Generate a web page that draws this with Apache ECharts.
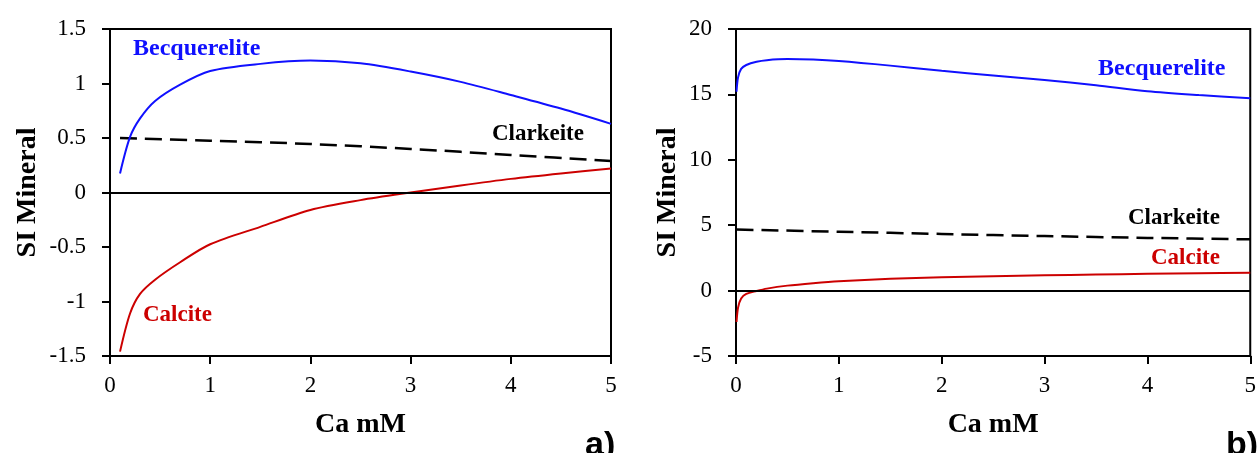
<!DOCTYPE html>
<html>
<head>
<meta charset="utf-8">
<script src="https://cdn.jsdelivr.net/npm/echarts@6/dist/echarts.min.js"></script>
<style>
html,body{margin:0;padding:0;background:#fff;}
#chart{width:1259px;height:453px;}
</style>
</head>
<body>
<div id="chart"></div>
<script>
// Panel a)
const xA = [0.1, 0.2, 0.3, 0.45, 0.7, 1, 1.5, 2, 2.5, 3, 3.5, 4, 4.5, 5];
const becqA = [0.175, 0.51, 0.68, 0.84, 0.99, 1.115, 1.18, 1.21, 1.185, 1.11, 1.015, 0.895, 0.77, 0.63];
const calcA = [-1.46, -1.11, -0.93, -0.8, -0.64, -0.475, -0.315, -0.16, -0.07, 0.0, 0.065, 0.125, 0.175, 0.22];
const clarkXA = [0.1, 1, 2, 3, 4, 5];
const clarkA = [0.5, 0.475, 0.445, 0.4, 0.345, 0.29];

// Panel b)
const xB = [0.005, 0.02, 0.05, 0.1, 0.2, 0.3, 0.5, 0.75, 1, 1.5, 2, 2.5, 3, 3.5, 4, 4.5, 5];
const becqB = [15.2, 16.3, 16.95, 17.25, 17.5, 17.62, 17.7, 17.66, 17.55, 17.2, 16.8, 16.45, 16.1, 15.7, 15.25, 14.95, 14.7];
const calcB = [-2.4, -1.3, -0.6, -0.25, -0.03, 0.15, 0.38, 0.57, 0.72, 0.9, 1.02, 1.1, 1.17, 1.23, 1.28, 1.32, 1.36];
const clarkXB = [0.005, 1, 2, 3, 4, 5];
const clarkB = [4.67, 4.5, 4.33, 4.17, 4.03, 3.92];

const xName = 'Ca mM';
const yName = 'SI Mineral';
const mineralNames = ['Becquerelite', 'Clarkeite', 'Calcite'];
const panelTags = ['a)', 'b)'];

const pair = (xs, ys) => xs.map((x, i) => [x, ys[i]]);
const serif = '"Liberation Serif","Times New Roman",serif';
const BLUE = '#1010ff', RED = '#cc0000', BLACK = '#000';

function xAxisCfg(gi, gap) {
  return {
    gridIndex: gi, type: 'value', min: 0, max: 5, interval: 1,
    name: xName, nameLocation: 'middle', nameGap: gap,
    nameTextStyle: {fontFamily: serif, fontWeight: 'bold', fontSize: 28, color: BLACK},
    axisLine: {onZero: false, lineStyle: {color: BLACK, width: 2}},
    axisTick: {show: true, inside: false, length: 8, lineStyle: {color: BLACK, width: 2}},
    axisLabel: {fontFamily: serif, fontSize: 23, color: BLACK, margin: 18},
    splitLine: {show: false}
  };
}
function yAxisCfg(gi, min, max, interval, gap) {
  return {
    gridIndex: gi, type: 'value', min: min, max: max, interval: interval,
    name: yName, nameLocation: 'middle', nameGap: gap,
    nameTextStyle: {fontFamily: serif, fontWeight: 'bold', fontSize: 28, color: BLACK},
    axisLine: {onZero: false, lineStyle: {color: BLACK, width: 2}},
    axisTick: {show: true, inside: false, length: 8, lineStyle: {color: BLACK, width: 2}},
    axisLabel: {fontFamily: serif, fontSize: 23, color: BLACK, margin: 24},
    splitLine: {show: false}
  };
}
function lineSeries(gi, data, color, dashed, zero) {
  const s = {
    type: 'line', xAxisIndex: gi, yAxisIndex: gi, data: data,
    showSymbol: false, symbol: 'none', smooth: 0.3, silent: true,
    lineStyle: {color: color, width: dashed ? 2.5 : 2, type: dashed ? [17, 8] : 'solid'},
    z: 3
  };
  if (zero) {
    s.markLine = {
      silent: true, symbol: 'none', label: {show: false},
      lineStyle: {color: BLACK, width: 2, type: 'solid'},
      data: [{yAxis: 0}]
    };
  }
  return s;
}
function txt(x, y, text, color, size, family, weight) {
  return {
    type: 'text', left: x, top: y - size / 2,
    style: {text: text, fill: color, fontSize: size, fontFamily: family || serif,
            fontWeight: weight || 'bold'}
  };
}

const chart = echarts.init(document.getElementById('chart'), null, {renderer: 'canvas'});
chart.setOption({
  animation: false,
  backgroundColor: '#fff',
  grid: [
    {left: 110, top: 29, width: 501, height: 327, show: true, borderColor: BLACK, borderWidth: 2, backgroundColor: 'transparent'},
    {left: 736, top: 29, width: 516, height: 327, show: true, borderColor: BLACK, borderWidth: 2, backgroundColor: 'transparent'}
  ],
  xAxis: [xAxisCfg(0, 55), xAxisCfg(1, 55)],
  yAxis: [yAxisCfg(0, -1.5, 1.5, 0.5, 68), yAxisCfg(1, -5, 20, 5, 54)],
  series: [
    lineSeries(0, pair(clarkXA, clarkA), BLACK, true, true),
    lineSeries(0, pair(xA, becqA), BLUE, false, false),
    lineSeries(0, pair(xA, calcA), RED, false, false),
    lineSeries(1, pair(clarkXB, clarkB), BLACK, true, true),
    lineSeries(1, pair(xB, becqB), BLUE, false, false),
    lineSeries(1, pair(xB, calcB), RED, false, false)
  ],
  graphic: [
    txt(133, 49, mineralNames[0], BLUE, 24),
    txt(492, 134, mineralNames[1], BLACK, 23),
    txt(143, 315, mineralNames[2], RED, 23),
    txt(1098, 69, mineralNames[0], BLUE, 24),
    txt(1128, 218, mineralNames[1], BLACK, 23),
    txt(1151, 258, mineralNames[2], RED, 23),
    txt(585, 446, panelTags[0], BLACK, 34, '"Liberation Sans Narrow","Liberation Sans",Arial,sans-serif', 'bold'),
    txt(1226, 446, panelTags[1], BLACK, 34, '"Liberation Sans Narrow","Liberation Sans",Arial,sans-serif', 'bold')
  ]
});
</script>
</body>
</html>
